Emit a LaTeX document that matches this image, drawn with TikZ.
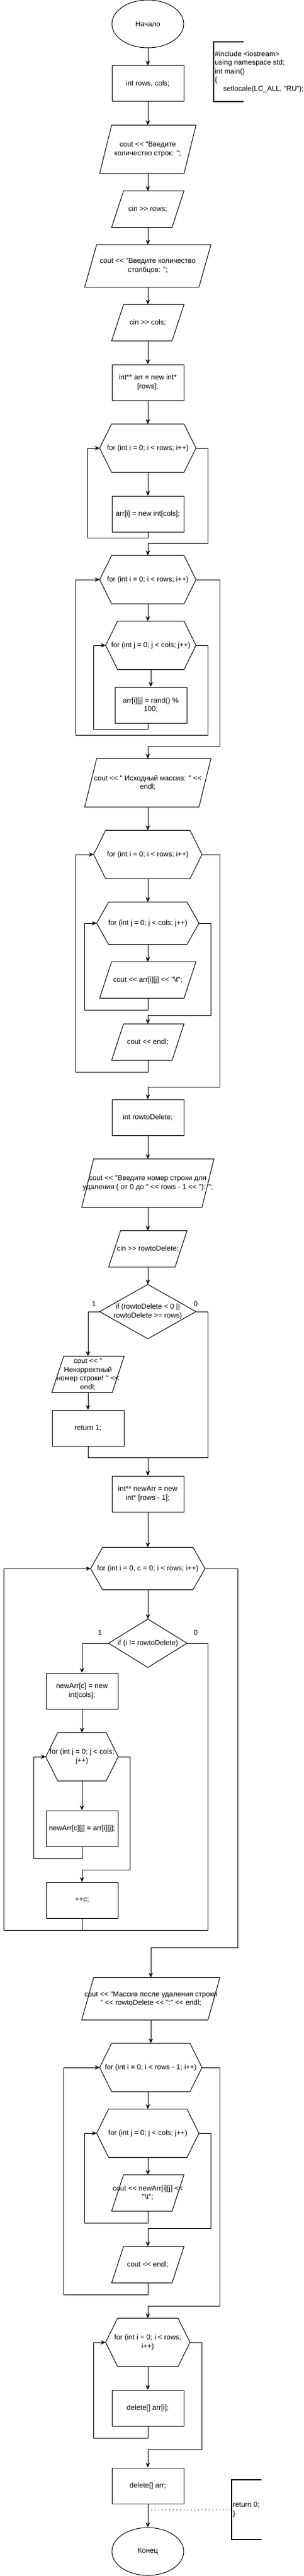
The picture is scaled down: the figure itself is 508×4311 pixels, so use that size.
\documentclass[tikz,border=0pt]{standalone}
\usepackage{fontspec}
\newfontfamily\chartfont{Liberation Sans}
\usetikzlibrary{shapes.geometric, arrows.meta, calc}

\tikzset{
	base/.style={font=\chartfont\fontsize{12}{14.5}\selectfont, align=center, inner sep=0pt},
	proc/.style={base, draw, rectangle, minimum width=120, minimum height=60},
	term/.style={base, draw, ellipse, minimum width=120, minimum height=80},
	io/.style={base, rectangle, minimum width=120, minimum height=60,
		append after command={\pgfextra{\draw ($(\tikzlastnode.north west)+(20pt,0pt)$) -- (\tikzlastnode.north east) -- ($(\tikzlastnode.south east)+(-20pt,0pt)$) -- (\tikzlastnode.south west) -- cycle;}}},
	loopbox/.style={base, rectangle, minimum width=160, minimum height=80,
		append after command={\pgfextra{\draw (\tikzlastnode.west) -- ($(\tikzlastnode.north west)+(20pt,0pt)$) -- ($(\tikzlastnode.north east)+(-20pt,0pt)$) -- (\tikzlastnode.east) -- ($(\tikzlastnode.south east)+(-20pt,0pt)$) -- ($(\tikzlastnode.south west)+(20pt,0pt)$) -- cycle;}}},
	decide/.style={base, rectangle,
		append after command={\pgfextra{\draw (\tikzlastnode.west) -- (\tikzlastnode.north) -- (\tikzlastnode.east) -- (\tikzlastnode.south) -- cycle;}}},
	remark/.style={base, align=left, anchor=west, inner xsep=1.5pt,
		append after command={\pgfextra{\draw[line width=2pt] ([shift={(50pt,50pt)}]\tikzlastnode.west) -- ([shift={(0pt,50pt)}]\tikzlastnode.west) -- ([shift={(0pt,-50pt)}]\tikzlastnode.west) -- ([shift={(50pt,-50pt)}]\tikzlastnode.west);}}},
	lbl/.style={base}
}

\begin{document}
\begin{tikzpicture}
	[
	x=1pt, y=-1pt,
	line width=1pt,
	flow/.style={-{Stealth[length=8pt, width=7pt, inset=2.5pt]}}
	]
		\useasboundingbox (0,0) rectangle (508,4311);

		% start
		\node[term] (st) at (247,40) {Начало};
		\node[remark] (c1) at (357,120) {\#include <iostream>\\using namespace std;\\int main()\\\{\\\hspace*{14pt}setlocale(LC\_ALL, "RU");};

		% input
		\node[proc] (p1) at (247,140) {int rows, cols;};
		\node[io, minimum width=160, minimum height=80] (io1) at (247,250) {cout << "Введите\\количество строк: ";};
		\node[io] (io2) at (247,350) {cin >> rows;};
		\node[io, minimum width=210, minimum height=70] (io3) at (247,445) {cout << "Введите количество\\столбцов: ";};
		\node[io] (io4) at (247,540) {cin >> cols;};

		% filling
		\node[proc] (p2) at (247,640) {int** arr = new int*\\{}[rows];};
		\node[loopbox] (f1) at (247,750) {for (int i = 0; i < rows; i++)};
		\node[proc] (p3) at (247,860) {arr[i] = new int[cols];};
		\node[loopbox] (f2) at (247,970) {for (int i = 0; i < rows; i++)};
		\node[loopbox, minimum width=150] (f3) at (252,1080) {for (int j = 0; j < cols; j++)};
		\node[proc] (p4) at (252,1180) {arr[i][j] = rand() \%\\100;};

		% output
		\node[io, minimum width=210, minimum height=80] (io5) at (247,1310) {cout << " Исходный массив: " <<\\endl;};
		\node[loopbox, minimum width=180] (f4) at (247,1430) {for (int i = 0; i < rows; i++)};
		\node[loopbox, minimum width=170, minimum height=70] (f5) at (247,1545) {for (int j = 0; j < cols; j++)};
		\node[io, minimum width=160] (io6) at (247,1640) {cout << arr[i][j] << "\textbackslash t";};
		\node[io] (io7) at (247,1744) {cout << endl;};

		% row to delete
		\node[proc] (p5) at (247,1870) {int rowtoDelete;};
		\node[io, minimum width=220, minimum height=80] (io8) at (247,1980) {cout << "Введите номер строки для\\удаления ( от 0 до " << rows - 1 << "): ";};
		\node[io, minimum width=130] (io9) at (247,2090) {cin >> rowtoDelete;};
		\node[decide, minimum width=160, minimum height=90] (d1) at (247,2195) {if (rowtoDelete < 0 ||\\rowtoDelete >= rows)};
		\node[lbl] (y1) at (157,2182) {1};
		\node[lbl] (n1) at (327,2182) {0};
		\node[io] (io10) at (147,2300) {cout << "\\Некорректный\\номер строки! " <<\\endl;};
		\node[proc] (p6) at (147,2390) {return 1;};

		% new array
		\node[proc] (p7) at (247,2500) {int** newArr = new\\int* [rows - 1];};
		\node[loopbox, minimum width=190, minimum height=70] (f6) at (247,2625) {for (int i = 0, c = 0; i < rows; i++)};
		\node[decide, minimum width=130, minimum height=80] (d2) at (247,2750) {if (i != rowtoDelete)};
		\node[lbl] (y2) at (167,2732) {1};
		\node[lbl] (n2) at (327,2732) {0};
		\node[proc] (p8) at (137,2830) {newArr[c] = new\\int[cols];};
		\node[loopbox, minimum width=120] (f7) at (137,2940) {for (int j = 0; j < cols;\\j++)};
		\node[proc] (p9) at (137,3060) {newArr[c][j] = arr[i][j];};
		\node[proc] (p10) at (137,3180) {++c;};
		\coordinate (j1) at (137,3230);

		% result
		\node[io, minimum width=230, minimum height=70] (io11) at (252,3345) {cout << "Массив после удаления строки\\" << rowtoDelete << ":" << endl;};
		\node[loopbox, minimum width=170] (f8) at (252,3460) {for (int i = 0; i < rows - 1; i++)};
		\node[loopbox, minimum width=170] (f9) at (247,3570) {for (int j = 0; j < cols; j++)};
		\node[io] (io12) at (247,3670) {cout << newArr[i][j] <<\\"\textbackslash t";};
		\node[io] (io13) at (247,3790) {cout << endl;};

		% cleanup
		\node[loopbox, minimum width=140] (f10) at (247,3920) {for (int i = 0; i < rows;\\i++)};
		\node[proc] (p11) at (247,4030) {delete[] arr[i];};
		\node[proc] (p12) at (247,4160) {delete[] arr;};
		\node[term] (en) at (247,4270) {Конец};
		\node[remark] (c2) at (387,4200) {return 0;\\\}};

		% drawing code
		\foreach \from/\to in {st/p1,p1/io1,io1/io2,io2/io3,io3/io4,io4/p2,p2/f1,f1/p3} \draw[flow] (\from.south) -- (\to.north);
		\foreach \from/\to in {f3/p4,io5/f4,f4/f5,f5/io6,p5/io8,io8/io9,io9/d1,io10/p6} \draw[flow] (\from.south) -- (\to.north);
		\foreach \from/\to in {p7/f6,f6/d2,p8/f7,f7/p9,io11/f8,f9/io12,f10/p11,p12/en} \draw[flow] (\from.south) -- (\to.north);
		\draw[flow] (f2.south) -- (f2.south |- f3.north);
		\draw[flow] (f8.south -| f9.north) -- (f9.north);
		% loop backs
		\foreach \body/\head/\down/\gap in {p3/f1/10/20,io6/f5/20/20,io7/f4/20/30,p9/f7/20/20,io12/f9/20/20,io13/f8/20/60,p11/f10/20/20} \draw[flow] (\body.south) -- ++(0,\down) -| ([xshift=-\gap pt]\head.west) -- (\head.west);
		\draw[flow] ([xshift=-5pt]p4.south) -- ++(0,10) -| ([xshift=-20pt]f3.west) -- (f3.west);
		\draw[flow] (f3.east) -- ++(20,0) -- ++(0,150) -| ([xshift=-40pt]f2.west) -- (f2.west);
		% loop exits
		\foreach \head/\tail/\side/\rise in {f1/f2/20/20,f2/io5/40/20,f5/io7/20/14,f4/p5/30/20,f7/p10/20/20,f6/io11/55/50,f9/io13/20/30,f8/f10/30/20,f10/p12/20/30,d1/p7/20/30} \draw[flow] (\head.east) -- ++(\side,0) |- ([yshift=\rise pt]\tail.north) -- (\tail.north);
		% branches
		\draw[flow] (d1.west) -| (io10.north);
		\draw (p6.south) |- ([yshift=30pt]p7.north);
		\draw[flow] (d2.west) -| (p8.north);
		\draw (d2.east) -- ++(35,0) |- (j1);
		\draw[flow] (p10.south) -- (j1) -| ([xshift=-145pt]f6.west) -- (f6.west);
		\draw[dash pattern=on 1pt off 5pt] ([yshift=-10pt]p12.south) -- (c2.west);
	\end{tikzpicture}
\end{document}
